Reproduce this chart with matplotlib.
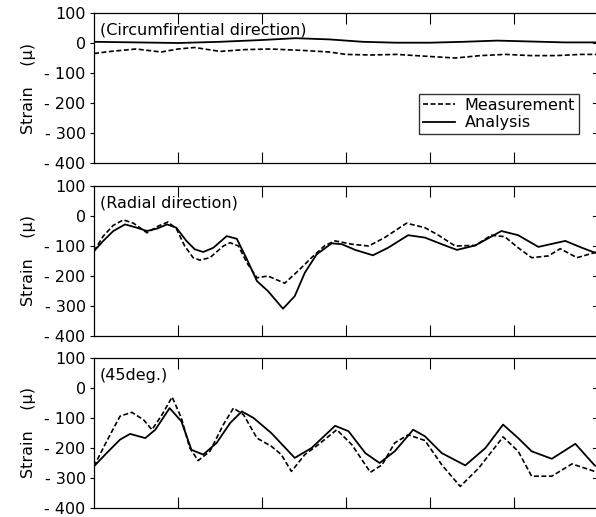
import numpy as np
import matplotlib
matplotlib.use("Agg")
import matplotlib.pyplot as plt
from matplotlib.ticker import FuncFormatter

plt.rcParams['font.family'] = ['DejaVu Sans']

# circumferential
c_meas_x = [0, 0.2, 0.5, 0.8, 1.0, 1.2, 1.5, 1.8, 2.1, 2.5, 2.8, 3.0, 3.3, 3.6, 4.0, 4.3, 4.6, 4.9, 5.2, 5.5, 5.8, 6.0]
c_meas_y = [-35, -28, -20, -30, -20, -15, -28, -22, -20, -25, -30, -38, -40, -38, -45, -50, -42, -38, -42, -42, -38, -38]
c_ana_x = [0, 0.5, 1.0, 1.5, 2.0, 2.4, 2.8, 3.2, 3.6, 4.0, 4.4, 4.8, 5.2, 5.6, 6.0]
c_ana_y = [4, 2, 0, 4, 10, 16, 12, 4, 1, 1, 4, 8, 5, 2, 2]

# radial
r_meas_x = [0, 0.11, 0.23, 0.35, 0.47, 0.63, 0.77, 0.88, 0.98, 1.08, 1.18, 1.26, 1.38, 1.54, 1.62, 1.72, 1.82, 1.94,
            2.07, 2.27, 2.43, 2.59, 2.75, 2.87, 3.07, 3.27, 3.46, 3.72, 3.94, 4.10, 4.30, 4.54, 4.73, 4.89, 5.05,
            5.21, 5.41, 5.55, 5.75, 5.96, 6.0]
r_meas_y = [-117, -67, -31, -13, -24, -56, -33, -20, -42, -100, -139, -147, -139, -100, -89, -100, -156, -206,
            -200, -224, -183, -139, -98, -83, -94, -100, -72, -24, -39, -64, -100, -98, -64, -69, -106,
            -139, -133, -109, -139, -122, -120]
r_ana_x = [0, 0.11, 0.23, 0.37, 0.51, 0.63, 0.75, 0.87, 0.98, 1.1, 1.2, 1.30, 1.42, 1.58, 1.70, 1.82, 1.94,
           2.07, 2.25, 2.39, 2.51, 2.65, 2.83, 2.95, 3.11, 3.32, 3.50, 3.74, 3.94, 4.14, 4.32, 4.54, 4.85, 5.05,
           5.29, 5.61, 5.81, 5.96, 6.0]
r_ana_y = [-117, -83, -50, -28, -39, -50, -42, -28, -39, -83, -111, -120, -106, -67, -76, -144, -217,
           -250, -309, -267, -189, -128, -91, -94, -113, -131, -106, -64, -72, -94, -113, -98, -50, -64,
           -103, -83, -106, -122, -122]

# 45 deg
d_meas_x = [0, 0.15, 0.31, 0.45, 0.59, 0.69, 0.81, 0.93, 1.04, 1.14, 1.24, 1.38, 1.54, 1.66, 1.78, 1.94,
            2.11, 2.23, 2.35, 2.51, 2.67, 2.89, 3.07, 3.29, 3.43, 3.58, 3.74, 3.94, 4.14, 4.36, 4.58, 4.87,
            5.05, 5.21, 5.45, 5.69, 5.96, 6.0]
d_meas_y = [-261, -178, -94, -81, -106, -139, -89, -30, -100, -200, -242, -211, -122, -67, -89, -167,
            -194, -222, -278, -222, -189, -139, -189, -281, -256, -183, -156, -175, -256, -328, -267, -163,
            -211, -294, -294, -253, -278, -276]
d_ana_x = [0, 0.15, 0.31, 0.43, 0.61, 0.73, 0.90, 1.04, 1.16, 1.30, 1.46, 1.62, 1.76, 1.90, 2.11, 2.39,
           2.59, 2.87, 3.03, 3.23, 3.40, 3.58, 3.80, 3.94, 4.14, 4.42, 4.66, 4.87, 5.05, 5.21, 5.45, 5.73,
           5.96, 6.0]
d_ana_y = [-261, -217, -172, -153, -167, -139, -67, -111, -206, -222, -183, -117, -78, -100, -150, -233,
           -200, -126, -144, -217, -250, -211, -139, -161, -217, -258, -200, -122, -167, -211, -236, -186,
           -258, -262]

labels = ["(Circumfirential direction)", "(Radial direction)", "(45deg.)"]
meas = [(c_meas_x, c_meas_y), (r_meas_x, r_meas_y), (d_meas_x, d_meas_y)]
ana = [(c_ana_x, c_ana_y), (r_ana_x, r_ana_y), (d_ana_x, d_ana_y)]


def fmt(v, pos):
    if v < 0:
        return "- %d" % (-v)
    return "%d" % v


fig = plt.figure(figsize=(5.96, 5.17), dpi=100)
W, H = 596.0, 517.0
tops = [13, 186, 358]
bots = [163, 336, 508]
left, right = 94, 598

for i in range(3):
    ax = fig.add_axes([left / W, (H - bots[i]) / H, (right - left) / W, (bots[i] - tops[i]) / H])
    ax.plot(meas[i][0], meas[i][1], color='black', lw=1.2, ls=(0, (3, 1.5)), label='Measurement')
    ax.plot(ana[i][0], ana[i][1], color='black', lw=1.3, label='Analysis')
    ax.set_xlim(0, 6)
    ax.set_ylim(-400, 100)
    ax.set_xticks([1, 2, 3, 4, 5])
    ax.set_yticks([-400, -300, -200, -100, 0, 100])
    ax.yaxis.set_major_formatter(FuncFormatter(fmt))
    ax.tick_params(axis='x', which='both', direction='in', top=True, bottom=True,
                   labelbottom=False, length=8, width=0.8)
    ax.tick_params(axis='y', direction='out', length=3, width=0.8, labelsize=11.5, pad=3)
    # short inward ticks on the right edge
    for yv in [-300, -200, -100, 0]:
        ax.plot([5.94, 6.0], [yv, yv], color='black', lw=0.8, clip_on=False)
    for s in ax.spines.values():
        s.set_linewidth(0.9)
    ax.set_ylabel("Strain    (\u03bc)", fontsize=11.5, labelpad=6)
    ax.text(0.012, 0.935, labels[i], transform=ax.transAxes, fontsize=11.5, va='top', ha='left')
    if i == 0:
        ax.legend(loc='upper right', bbox_to_anchor=(0.962, 0.46), frameon=True, fancybox=False,
                  edgecolor='black', fontsize=11.5, handlelength=2.0, borderpad=0.25,
                  labelspacing=0.15, handletextpad=0.6, borderaxespad=0)

fig.savefig("out.png", dpi=100)
